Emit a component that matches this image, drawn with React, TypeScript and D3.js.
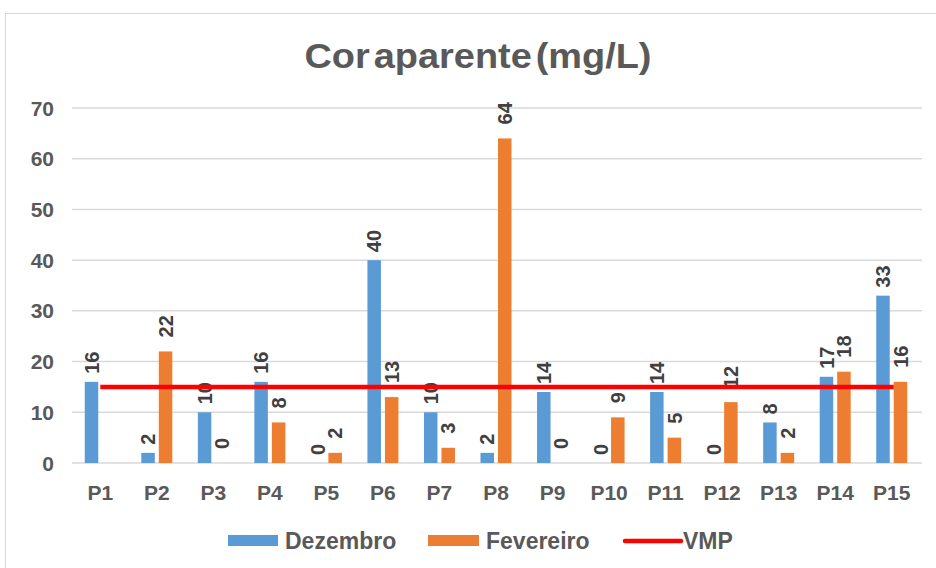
import React from "react";
import * as d3 from "d3";

const WIDTH = 936;
const HEIGHT = 568;

const categories = ["P1", "P2", "P3", "P4", "P5", "P6", "P7", "P8", "P9", "P10", "P11", "P12", "P13", "P14", "P15"];
const dezembro = [16, 2, 10, 16, 0, 40, 10, 2, 14, 0, 14, 0, 8, 17, 33];
const fevereiro = [null, 22, 0, 8, 2, 13, 3, 64, 0, 9, 5, 12, 2, 18, 16];
const vmp = 15;
const yTicks = [0, 10, 20, 30, 40, 50, 60, 70];

const BLUE = "#5B9BD5";
const ORANGE = "#ED7D31";
const RED = "#FF0000";
const TEXT = "#595959";
const FONT = "'Liberation Sans', Arial, sans-serif";

export default function App() {
  const margin = { left: 72, right: 16, top: 108, bottom: 105 };
  const x = d3
    .scaleBand<string>()
    .domain(categories)
    .range([margin.left, WIDTH - margin.right]);
  const y = d3.scaleLinear().domain([0, 70]).range([HEIGHT - margin.bottom, margin.top]);

  const barW = 13.5;
  const gap = 2;

  const series = [
    { name: "Dezembro", values: dezembro, color: BLUE, offset: -gap - barW, labelGap: 8 },
    { name: "Fevereiro", values: fevereiro, color: ORANGE, offset: gap, labelGap: 14 },
  ];

  const cx = (c: string) => (x(c) as number) + x.bandwidth() / 2;

  return (
    <svg width={WIDTH} height={HEIGHT} style={{ position: "absolute", left: 0, top: 0 }} fontFamily={FONT}>
      <rect x={0} y={0} width={WIDTH} height={HEIGHT} fill="#fff" />
      <rect x={5.5} y={13.5} width={WIDTH + 10} height={HEIGHT + 10} fill="#fff" stroke="#d9d9d9" />
      <text
        x={478}
        y={68}
        textAnchor="middle"
        fontSize={35}
        fontWeight="bold"
        fill={TEXT}
        wordSpacing={-6}
        textLength={347}
        lengthAdjust="spacingAndGlyphs"
      >
        Cor aparente (mg/L)
      </text>

      {yTicks.map((t) => (
        <g key={t}>
          <line x1={margin.left} x2={WIDTH - margin.right + 2} y1={y(t)} y2={y(t)} stroke="#d9d9d9" strokeWidth={1.5} />
          <text x={54} y={y(t)} dy="0.36em" textAnchor="end" fontSize={21} fontWeight="bold" fill={TEXT}>
            {t}
          </text>
        </g>
      ))}

      {series.map((s) =>
        categories.map((c, i) => {
          const v = s.values[i];
          if (v === null || v === undefined) return null;
          const bx = cx(c) + s.offset;
          const len = String(v).length * 11;
          const start = Math.max(y(v) - s.labelGap, 97 + len);
          return (
            <g key={s.name + c}>
              <rect x={bx} y={y(v)} width={barW} height={y(0) - y(v)} fill={s.color} />
              <text
                transform={`translate(${bx + barW / 2},${start}) rotate(-90)`}
                dy="0.36em"
                textAnchor="start"
                fontSize={20}
                fontWeight="bold"
                fill="#404040"
              >
                {v}
              </text>
            </g>
          );
        })
      )}

      <line
        x1={cx(categories[0])}
        x2={cx(categories[categories.length - 1]) + 2}
        y1={y(vmp)}
        y2={y(vmp)}
        stroke={RED}
        strokeWidth={4.5}
      />

      {categories.map((c) => (
        <text key={c} x={cx(c)} y={500} textAnchor="middle" fontSize={21} fontWeight="bold" fill={TEXT}>
          {c}
        </text>
      ))}

      <g fontSize={23} fontWeight="bold" fill={TEXT}>
        <rect x={228} y={535} width={50} height={11} fill={BLUE} />
        <text x={285} y={549}>Dezembro</text>
        <rect x={428} y={535} width={51} height={11} fill={ORANGE} />
        <text x={486} y={549}>Fevereiro</text>
        <line x1={625} x2={681} y1={541} y2={541} stroke={RED} strokeWidth={4.5} strokeLinecap="round" />
        <text x={683} y={549}>VMP</text>
      </g>
    </svg>
  );
}
